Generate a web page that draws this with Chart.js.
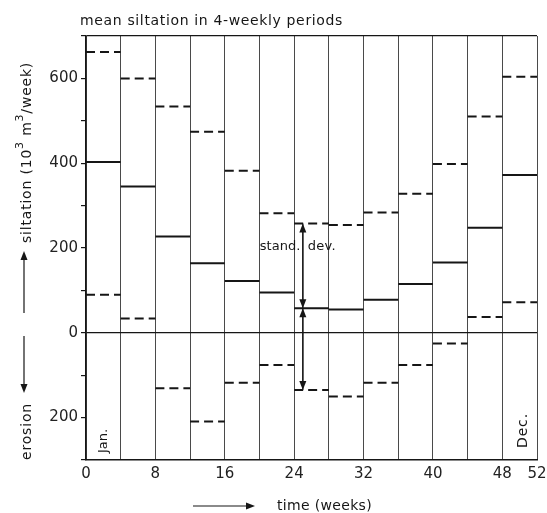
<!DOCTYPE html>
<html>
<head>
<meta charset="utf-8">
<script src="https://cdn.jsdelivr.net/npm/chart.js@4/dist/chart.umd.min.js"></script>
<style>
  html, body { margin: 0; padding: 0; background: #fff; }
  #wrap { width: 547px; height: 513px; }
</style>
</head>
<body>
<div id="wrap"><canvas id="siltChart"></canvas></div>
<script>
// 4-weekly periods through the year (start week of each period)
const periodStart = [0, 4, 8, 12, 16, 20, 24, 28, 32, 36, 40, 44, 48];
// mean siltation per period, 10^3 m3/week (negative = erosion)
const meanSilt = [403, 345, 227, 164, 122, 95, 58, 55, 78, 115, 166, 248, 372];
// mean + standard deviation
const upperSd = [662, 600, 534, 474, 382, 282, 258, 254, 284, 328, 398, 510, 604];
// mean - standard deviation
const lowerSd = [90, 34, -131, -209, -118, -76, -135, -150, -118, -76, -25, 37, 72];
const xLabels = [0, 8, 16, 24, 32, 40, 48, 52];
const yLabels = [-200, 0, 200, 400, 600];

const ink = '#161616';
const font = 'DejaVu Sans';

// horizontal step per period, broken between periods
function steps(values) {
  const pts = [];
  values.forEach((v, i) => {
    pts.push({ x: periodStart[i], y: v });
    pts.push({ x: periodStart[i] + 4, y: v });
    pts.push({ x: periodStart[i] + 4, y: null });
  });
  return pts;
}

function fitText(ctx, text, x, y, width) {
  ctx.letterSpacing = '0px';
  const w = ctx.measureText(text).width;
  ctx.letterSpacing = Math.max(0, (width - w) / text.length) + 'px';
  ctx.fillText(text, x, y);
  ctx.letterSpacing = '0px';
}

function arrow(ctx, x1, y1, x2, y2, head = 9, half = 3.5) {
  const a = Math.atan2(y2 - y1, x2 - x1);
  ctx.beginPath();
  ctx.moveTo(x1, y1);
  ctx.lineTo(x2 - Math.cos(a) * head * 0.6, y2 - Math.sin(a) * head * 0.6);
  ctx.stroke();
  ctx.beginPath();
  ctx.moveTo(x2, y2);
  ctx.lineTo(x2 - Math.cos(a) * head - Math.sin(a) * half, y2 - Math.sin(a) * head + Math.cos(a) * half);
  ctx.lineTo(x2 - Math.cos(a) * head + Math.sin(a) * half, y2 - Math.sin(a) * head - Math.cos(a) * half);
  ctx.closePath();
  ctx.fill();
}

const annotate = {
  id: 'annotate',
  afterDraw(chart) {
    const { ctx, scales: { x, y } } = chart;
    ctx.save();
    ctx.fillStyle = ink;
    ctx.strokeStyle = ink;
    ctx.lineWidth = 1.2;
    ctx.textBaseline = 'alphabetic';
    ctx.textAlign = 'left';

    // title
    ctx.font = '14px "' + font + '"';
    fitText(ctx, 'mean siltation in 4-weekly periods', 80, 25, 263);

    // vertical axis title with superscripts
    ctx.save();
    ctx.translate(31, 243);
    ctx.rotate(-Math.PI / 2);
    ctx.letterSpacing = '0.8px';
    let cx = 0;
    [['siltation (10', 14, 0], ['3', 11, 8], [' m', 14, 0], ['3', 11, 8], ['/week)', 14, 0]].forEach(([t, s, r]) => {
      ctx.font = s + 'px "' + font + '"';
      ctx.fillText(t, cx, -r);
      cx += ctx.measureText(t).width;
    });
    ctx.letterSpacing = '0px';
    ctx.font = '14px "' + font + '"';
    fitText(ctx, 'erosion', 243 - 460, 0, 57);
    ctx.restore();

    arrow(ctx, 24, 313, 24, 251);
    arrow(ctx, 24, 336, 24, 393);

    // horizontal axis title
    ctx.font = '14px "' + font + '"';
    fitText(ctx, 'time (weeks)', 277, 510, 95);
    arrow(ctx, 193, 506, 255, 506);

    // month marks
    ctx.save();
    ctx.translate(107, 453);
    ctx.rotate(-Math.PI / 2);
    ctx.font = '13px "' + font + '"';
    fitText(ctx, 'Jan.', 0, 0, 23);
    ctx.restore();
    ctx.save();
    ctx.translate(527, 448);
    ctx.rotate(-Math.PI / 2);
    ctx.font = '14px "' + font + '"';
    fitText(ctx, 'Dec.', 0, 0, 35);
    ctx.restore();

    // standard deviation marker in period 24-28
    const i = 6;
    const ax = x.getPixelForValue(25);
    const yUp = y.getPixelForValue(upperSd[i]);
    const yMid = y.getPixelForValue(meanSilt[i]);
    const yLow = y.getPixelForValue(lowerSd[i]);
    arrow(ctx, ax, yMid, ax, yUp);
    arrow(ctx, ax, yUp, ax, yMid);
    arrow(ctx, ax, yLow, ax, yMid);
    arrow(ctx, ax, yMid, ax, yLow);
    // label split around the arrow
    ctx.font = '13px "' + font + '"';
    fitText(ctx, 'stand.', ax - 43, 250, 38);
    fitText(ctx, 'dev.', ax + 5, 250, 28);

    ctx.restore();
  }
};

new Chart(document.getElementById('siltChart'), {
  type: 'line',
  data: {
    datasets: [
      { label: 'mean', data: steps(meanSilt), borderColor: ink, borderWidth: 2 },
      { label: 'mean + sd', data: steps(upperSd), borderColor: ink, borderWidth: 2, borderDash: [9, 5] },
      { label: 'mean - sd', data: steps(lowerSd), borderColor: ink, borderWidth: 2, borderDash: [9, 5] }
    ]
  },
  options: {
    responsive: true,
    maintainAspectRatio: false,
    animation: false,
    spanGaps: false,
    elements: { point: { radius: 0 }, line: { tension: 0 } },
    layout: { padding: { top: 36, right: 10, left: 0, bottom: 0 } },
    plugins: { legend: { display: false }, tooltip: { enabled: false } },
    scales: {
      x: {
        type: 'linear',
        min: 0,
        max: 52,
        afterFit: s => { s.height = 53; s.paddingLeft = 0; s.paddingRight = 0; },
        ticks: {
          stepSize: 4,
          autoSkip: false,
          maxRotation: 0,
          padding: 5,
          color: '#222',
          font: { family: font, size: 15 },
          callback: v => xLabels.includes(v) ? String(v) : ''
        },
        grid: { color: '#4a4a4a', lineWidth: 1, drawTicks: false },
        border: { display: true, color: ink, width: 1.5 }
      },
      y: {
        min: -300,
        max: 700,
        afterFit: s => { s.width = 86; s.paddingTop = 0; s.paddingBottom = 0; },
        ticks: {
          stepSize: 100,
          autoSkip: false,
          padding: 3,
          color: '#222',
          font: { family: font, size: 15 },
          callback: v => yLabels.includes(v) ? String(Math.abs(v)) : ''
        },
        grid: {
          color: c => (c.tick && (c.tick.value === 0 || c.tick.value === 700)) ? ink : 'rgba(0,0,0,0)',
          tickColor: ink,
          tickLength: 5,
          lineWidth: 1.2
        },
        border: { display: true, color: ink, width: 1.5 }
      }
    }
  },
  plugins: [annotate]
});
</script>
</body>
</html>
